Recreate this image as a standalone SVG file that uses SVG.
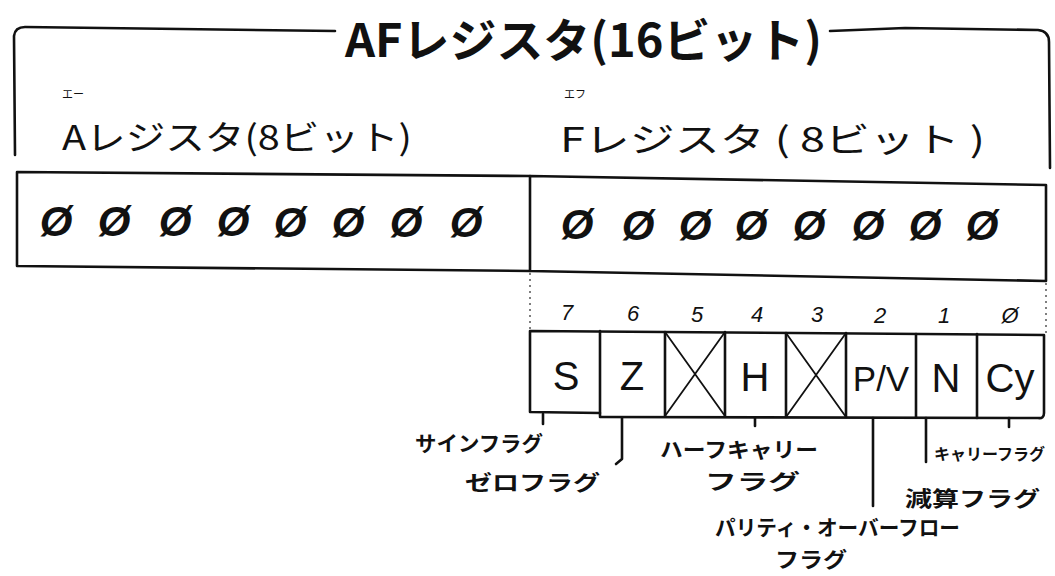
<svg xmlns="http://www.w3.org/2000/svg" width="1055" height="576" viewBox="0 0 1055 576">
<style>
.ln{fill:none;stroke:#111;stroke-width:2.6;stroke-linecap:round;stroke-linejoin:round}
.thin{fill:none;stroke:#111;stroke-width:1.8;stroke-linecap:round}
.dot{fill:none;stroke:#555;stroke-width:1.5;stroke-dasharray:2 4}
.jp{font-family:"Noto Sans CJK JP","Noto Sans",sans-serif;fill:#111}
.zero{font-family:"Liberation Sans","DejaVu Sans",sans-serif;font-style:italic;font-weight:bold;font-size:42px;fill:#111;text-anchor:middle}
.num{font-family:"Liberation Sans","DejaVu Sans",sans-serif;font-style:italic;font-size:22px;fill:#111;text-anchor:middle}
.flag{font-family:"Liberation Sans","DejaVu Sans",sans-serif;font-size:40px;fill:#111;text-anchor:middle}
.lab{font-family:"Noto Sans CJK JP","Noto Sans",sans-serif;font-size:21px;fill:#111;font-weight:bold}
</style>
<rect width="1055" height="576" fill="#fff"/>

<g id="af-register">
  <path class="ln" d="M15,155 L14,36 Q15,27 25,27 L180,29 L335,31"/>
  <path class="ln" d="M830,31 L905,28 L1038,30 Q1049,31 1049,42 L1050,168"/>
  <text class="jp" x="345" y="57" font-size="46" font-weight="bold" textLength="477" lengthAdjust="spacingAndGlyphs">AFレジスタ(16ビット)</text>
</g>

<g id="a-register-label">
  <text class="jp" x="62" y="98" font-size="11">エー</text>
  <text class="jp" x="62" y="150" font-size="34" textLength="350" lengthAdjust="spacingAndGlyphs">Aレジスタ(8ビット)</text>
</g>
<g id="f-register-label">
  <text class="jp" x="564" y="98" font-size="11">エフ</text>
  <text class="jp" x="560" y="152" font-size="34" textLength="425" lengthAdjust="spacingAndGlyphs">Fレジスタ ( 8ビット )</text>
</g>

<g id="a-register">
  <path class="ln" d="M530,176 L17,172 L17,266 L530,271"/>
  <text class="zero" x="56" y="236">Ø</text>
  <text class="zero" x="114" y="236">Ø</text>
  <text class="zero" x="175" y="236">Ø</text>
  <text class="zero" x="233" y="236">Ø</text>
  <text class="zero" x="290" y="237">Ø</text>
  <text class="zero" x="348" y="237">Ø</text>
  <text class="zero" x="406" y="237">Ø</text>
  <text class="zero" x="466" y="237">Ø</text>
</g>
<g id="f-register">
  <path class="ln" d="M530,176 L1046,185 L1046,281 L530,271 Z"/>
  <text class="zero" x="577" y="239">Ø</text>
  <text class="zero" x="638" y="240">Ø</text>
  <text class="zero" x="695" y="240">Ø</text>
  <text class="zero" x="751" y="240">Ø</text>
  <text class="zero" x="809" y="240">Ø</text>
  <text class="zero" x="868" y="240">Ø</text>
  <text class="zero" x="925" y="240">Ø</text>
  <text class="zero" x="982" y="240">Ø</text>
</g>

<g id="flag-bits">
  <path class="ln" d="M530,331 L1044,335 L1044,413 Q1044,419 1038,418 L600,417 M530,331 L530,412 L600,413"/>
  <path class="ln" d="M600,331 L600,416 M665,332 L665,416 M725,332 L725,416 M786,333 L786,417 M846,333 L846,417 M916,334 L916,417 M977,334 L977,418"/>
  <path class="thin" d="M665,332 L725,416 M725,332 L665,416 M786,333 L846,417 M846,333 L786,417"/>
  <text class="num" x="567" y="320">7</text>
  <text class="num" x="633" y="321">6</text>
  <text class="num" x="697" y="322">5</text>
  <text class="num" x="757" y="322">4</text>
  <text class="num" x="817" y="322">3</text>
  <text class="num" x="880" y="323">2</text>
  <text class="num" x="944" y="323">1</text>
  <text class="num" x="1010" y="323">Ø</text>
  <text class="flag" x="566" y="390">S</text>
  <text class="flag" x="632" y="390">Z</text>
  <text class="flag" x="755" y="391">H</text>
  <text class="flag" x="881" y="391" style="font-size:35px">P/V</text>
  <text class="flag" x="946" y="392">N</text>
  <text class="flag" x="1010" y="392">Cy</text>
</g>

<g id="connectors">
  <path class="dot" d="M530,273 L530,330 M1046,283 L1046,333"/>
  <path class="ln" d="M543,414 L543,424"/>
  <path class="ln" d="M622,418 L622,459 L616,464"/>
  <path class="ln" d="M755,418 L755,426"/>
  <path class="ln" d="M873,418 L873,506"/>
  <path class="ln" d="M926,418 L926,462"/>
  <path class="ln" d="M1009,418 L1009,427"/>
</g>

<g id="label-sign"><text class="lab" x="415" y="451" textLength="128" lengthAdjust="spacingAndGlyphs">サインフラグ</text></g>
<g id="label-zero"><text class="lab" x="465" y="490" textLength="135" lengthAdjust="spacingAndGlyphs">ゼロフラグ</text></g>
<g id="label-half-carry">
  <text class="lab" x="660" y="457" textLength="158" lengthAdjust="spacingAndGlyphs">ハーフキャリー</text>
  <text class="lab" x="705" y="489" textLength="95" lengthAdjust="spacingAndGlyphs">フラグ</text>
</g>
<g id="label-parity">
  <text class="lab" x="715" y="535" textLength="245" lengthAdjust="spacingAndGlyphs">パリティ・オーバーフロー</text>
  <text class="lab" x="775" y="567" textLength="72" lengthAdjust="spacingAndGlyphs">フラグ</text>
</g>
<g id="label-subtract"><text class="lab" x="905" y="506" textLength="135" lengthAdjust="spacingAndGlyphs">減算フラグ</text></g>
<g id="label-carry"><text class="lab" x="934" y="460" style="font-size:16px">キャリーフラグ</text></g>
</svg>
